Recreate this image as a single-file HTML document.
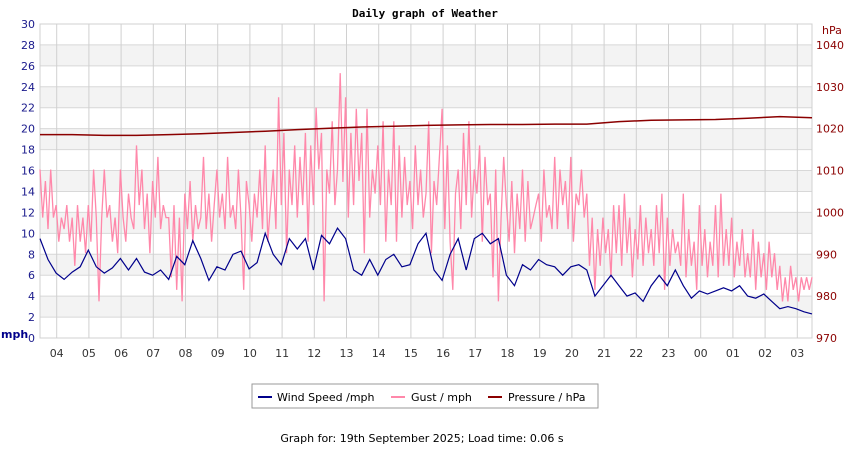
<!DOCTYPE html>
<html><head><meta charset="utf-8"><style>
body{margin:0;background:#fff;width:850px;height:450px;overflow:hidden;font-family:"DejaVu Sans","Liberation Sans",sans-serif}
svg text{font-family:"DejaVu Sans","Liberation Sans",sans-serif}
</style></head><body>
<svg id="chart" width="850" height="450" xmlns="http://www.w3.org/2000/svg">
<text x="425" y="17" text-anchor="middle" font-size="11" font-weight="bold" style="font-family:'DejaVu Sans Mono','Liberation Mono',monospace" fill="#000">Daily graph of Weather</text>
<g id="grid"></g><g id="series"></g><g id="axes"></g>
<text x="1" y="338" font-size="11" font-weight="bold" fill="#00008b">mph</text>
<text x="822" y="34" font-size="11" fill="#8b0000">hPa</text>
<g>
<rect x="252" y="384" width="346" height="24" fill="#fff" stroke="#999"/>
<line x1="258" y1="397" x2="272" y2="397" stroke="#00008b" stroke-width="2"/>
<text x="277" y="401" font-size="11">Wind Speed /mph</text>
<line x1="391" y1="397" x2="405" y2="397" stroke="#ff88aa" stroke-width="2"/>
<text x="411" y="401" font-size="11">Gust / mph</text>
<line x1="488" y1="397" x2="502" y2="397" stroke="#8b0000" stroke-width="2"/>
<text x="508" y="401" font-size="11">Pressure / hPa</text>
</g>
<text x="422" y="442" text-anchor="middle" font-size="11">Graph for: 19th September 2025; Load time: 0.06 s</text>
</svg>
<script>
const hourLabels=["04","05","06","07","08","09","10","11","12","13","14","15","16","17","18","19","20","21","22","23","00","01","02","03"];
const mphTicks=[0,2,4,6,8,10,12,14,16,18,20,22,24,26,28,30];
const hpaTicks=[970,980,990,1000,1010,1020,1030,1040];
const wind=[9.5,7.5,6.2,5.6,6.3,6.8,8.4,6.8,6.2,6.7,7.6,6.5,7.6,6.3,6.0,6.5,5.6,7.8,7.0,9.3,7.6,5.5,6.8,6.5,8.0,8.3,6.6,7.2,10.0,8.0,7.0,9.5,8.5,9.5,6.5,9.8,9.0,10.5,9.5,6.5,6.0,7.5,6.0,7.5,8.0,6.8,7.0,9.0,10.0,6.5,5.5,8.0,9.5,6.5,9.5,10.0,9.0,9.5,6.0,5.0,7.0,6.5,7.5,7.0,6.8,6.0,6.8,7.0,6.5,4.0,5.0,6.0,5.0,4.0,4.3,3.5,5.0,6.0,5.0,6.5,5.0,3.8,4.5,4.2,4.5,4.8,4.5,5.0,4.0,3.8,4.2,3.5,2.8,3.0,2.8,2.5,2.3];
const gust=[16.1,11.5,15,10.4,16.1,11.5,12.7,9.2,11.5,10.4,12.7,9.2,
11.5,6.9,12.7,9.2,11.5,8.1,12.7,9.2,16.1,11.5,3.5,11.5,
16.1,11.5,12.7,9.2,11.5,8.1,16.1,11.5,9.2,13.8,11.5,10.4,
18.4,12.7,16.1,10.4,13.8,8.1,15,11.5,17.3,10.4,12.7,11.5,
11.5,5.8,12.7,4.6,11.5,3.5,13.8,10.4,15,9.2,12.7,10.4,
11.5,17.3,10.4,13.8,9.2,12.7,16.1,11.5,13.8,10.4,17.3,11.5,
12.7,10.4,16.1,11.5,4.6,15,12.7,9.2,13.8,11.5,16.1,10.4,
18.4,9.2,12.7,16.1,10.4,23,12.7,19.6,8.1,16.1,12.7,18.4,
11.5,17.3,12.7,19.6,9.2,18.4,12.7,22,16.1,19.6,3.5,16.1,
13.8,20.7,12.7,16.1,25.3,14.9,23,11.5,19.6,12.7,21.9,15,
19.6,8.1,21.9,11.5,16.1,13.8,18.4,12.7,20.7,9.2,16.1,12.7,
20.7,9.2,18.4,11.5,17.3,12.7,15,10.4,18.4,12.7,16.1,11.5,
13.8,20.7,8.1,15,12.7,17.3,21.9,10.4,18.4,9.2,4.6,13.8,
16.1,10.4,19.6,12.7,20.7,11.5,16.1,13.8,18.4,9.2,17.3,12.7,
13.8,5.8,16.1,3.5,11.5,17.3,12.7,9.2,15,8.1,13.8,10.4,
16.1,9.2,15,10.4,11.5,12.7,13.8,9.2,16.1,11.5,12.7,10.4,
17.3,10.4,16.1,12.7,15,10.4,17.3,9.2,13.8,12.7,16.1,11.5,
13.8,6.9,11.5,4.6,10.4,6.9,11.5,8.1,10.4,5.8,12.7,8.1,
12.7,6.9,13.8,8.1,11.5,5.8,10.4,7.5,12.7,6.9,11.5,8.1,
10.4,6.9,12.7,8.1,13.8,4.6,11.5,6.9,10.4,8.1,9.2,6.9,
13.8,5.8,10.4,6.9,9.2,4.6,12.7,6.9,10.4,5.8,9.2,6.9,
12.7,5.8,13.8,6.9,10.4,6.9,11.5,5.8,9.2,6.9,10.4,5.8,
8.1,5.8,10.4,4.6,9.2,5.8,8.1,4.6,9.2,5.8,8.1,4.6,
6.9,3.5,5.8,3.5,6.9,4.6,5.8,3.5,5.8,4.6,5.8,4.6,5.8];
const pressure=[1018.6,1018.6,1018.4,1018.4,1018.6,1018.8,1019.1,1019.4,1019.8,1020.1,1020.4,1020.6,1020.8,1020.9,1021.0,1021.0,1021.1,1021.1,1021.7,1022.0,1022.1,1022.2,1022.5,1022.9,1022.6];

const NS="http://www.w3.org/2000/svg";
const X0=40,X1=812,Y0=338,Y1=24,H0=56.7,HS=32.2;
const xHour=h=>X0+(X1-X0)*h/24;
const yMph=v=>Y0-(Y0-Y1)*v/30;
const yHpa=v=>Y0-(v-970)*(Y0-45)/70;
function mk(tag,attrs,parent){const e=document.createElementNS(NS,tag);for(const k in attrs)e.setAttribute(k,attrs[k]);parent.appendChild(e);return e;}
const grid=document.getElementById('grid'),axes=document.getElementById('axes'),ser=document.getElementById('series');
for(let v=2;v<28;v+=4){const r=mk('rect',{x:X0,y:yMph(v+2),width:X1-X0,height:yMph(v)-yMph(v+2),fill:'#f3f3f3'},grid);

}
mphTicks.forEach(v=>{const l=mk('line',{x1:X0,x2:X1,y1:yMph(v),y2:yMph(v),stroke:'#d8d8d8','stroke-width':1},grid);


const t=mk('text',{x:35,y:yMph(v)+4,'text-anchor':'end','font-size':11,fill:'#1a1a8c'},axes);


t.textContent=v;});
hpaTicks.forEach(v=>{const t=mk('text',{x:816,y:yHpa(v)+4,'font-size':11,fill:'#8b0000'},axes);


t.textContent=v;});
hourLabels.forEach((s,i)=>{const x=H0+i*HS;const l=mk('line',{x1:x,x2:x,y1:Y1,y2:Y0,stroke:'#d0d0d0','stroke-width':1},grid);


const t=mk('text',{x:x,y:357,'text-anchor':'middle','font-size':11,fill:'#333'},axes);


t.textContent=s;});
const frame=mk('rect',{x:X0,y:Y1,width:X1-X0,height:Y0-Y1,fill:'none',stroke:'#d0d0d0'},grid);


function line(arr,yf,color,name,w){const n=arr.length-1;const pts=arr.map((v,i)=>xHour(24*i/n).toFixed(1)+','+yf(v).toFixed(1)).join(' ');
const p=mk('polyline',{points:pts,fill:'none',stroke:color,'stroke-width':w,'stroke-linejoin':'miter'},ser);

}
line(gust,yMph,'#ff88aa','gust-line',1.3);
line(pressure,yHpa,'#8b0000','pressure-line',1.5);
line(wind,yMph,'#00008b','wind-speed-line',1.2);
</script>
</body></html>
